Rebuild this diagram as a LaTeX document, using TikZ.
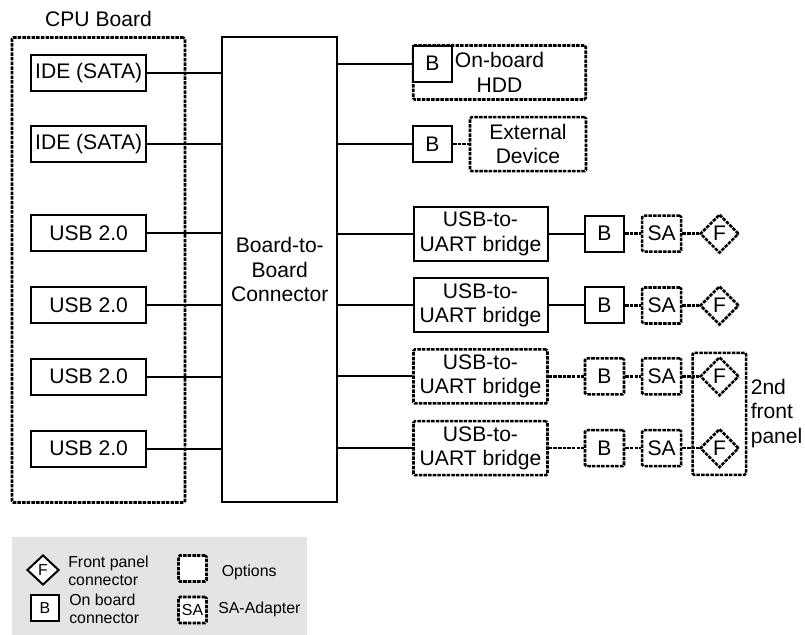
\documentclass[tikz,border=0pt]{standalone}
\usepackage{fontspec}
\setmainfont{Liberation Sans}
\usetikzlibrary{shapes.geometric}
\definecolor{legendgray}{RGB}{228, 228, 228}
\newcommand{\pu}{0.025cm}
\tikzset{
	bigtext/.style={font=\fontsize{15.0}{17.4}\selectfont},
	smalltext/.style={font=\fontsize{11.3}{12.9}\selectfont},
	optline/.style={line width=1.8pt, dash pattern=on 2.5pt off 0.8pt},
	solidline/.style={line width=1.42pt},
	block/.style={rectangle, draw=black, solidline, align=center, inner sep=0pt, bigtext},
	optblock/.style={block, optline, rounded corners=1pt},
	portbox/.style={block, minimum width=115*\pu, minimum height=36*\pu},
	bridge/.style={block, minimum width=134*\pu, minimum height=54*\pu},
	optbridge/.style={optblock, minimum width=134*\pu, minimum height=54*\pu},
	conbox/.style={block, minimum width=39*\pu, minimum height=36*\pu},
	optconbox/.style={optblock, minimum width=39*\pu, minimum height=36*\pu},
	adapter/.style={optblock, minimum width=39*\pu, minimum height=36*\pu},
	panelconn/.style={diamond, aspect=1, draw=black, optline, inner sep=0pt, minimum size=39*\pu, bigtext},
	legendkey/.style={rectangle, draw=black, align=center, inner sep=0pt, smalltext},
	link/.style={draw=black, solidline},
	optlink/.style={draw=black, optline},
}
\begin{document}
\begin{tikzpicture}[x=\pu, y=-\pu]
		\useasboundingbox (0,0) rectangle (805,635);
		\node[bigtext] (cputitle) at (98.5,19) {CPU Board};
		\node[optblock, minimum width=173*\pu, minimum height=465*\pu] (cpu) at (98.5,270) {};
		\node[portbox] (ide1) at (88.7,72.8) {IDE (SATA)};
		\node[portbox] (ide2) at (88.7,144.5) {IDE (SATA)};
		\node[portbox] (usb1) at (88.7,233.5) {USB 2.0};
		\node[portbox] (usb2) at (88.7,305) {USB 2.0};
		\node[portbox] (usb3) at (88.7,376.7) {USB 2.0};
		\node[portbox] (usb4) at (88.7,448.7) {USB 2.0};
		\node[block, minimum width=115*\pu, minimum height=465*\pu] (conn) at (279.8,269.5) {Board-to-\\Board\\Connector};
		\node[optblock, minimum width=172.5*\pu, minimum height=54*\pu] (hdd) at (499.5,72.5) {On-board\\HDD};
		\node[conbox, fill=white] (bhdd) at (432.5,63.7) {B};
		\node[conbox] (bext) at (432.5,144.2) {B};
		\node[optblock, minimum width=116*\pu, minimum height=54*\pu] (ext) at (528,144.2) {External\\Device};
		\node[bridge] (uart1) at (480.5,233.7) {USB-to-\\UART bridge};
		\node[bridge] (uart2) at (480.5,305.5) {USB-to-\\UART bridge};
		\node[optbridge] (uart3) at (480.5,376.4) {USB-to-\\UART bridge};
		\node[optbridge] (uart4) at (480.5,448.2) {USB-to-\\UART bridge};
		\node[conbox] (b1) at (604.5,233.7) {B};
		\node[conbox] (b2) at (604.5,305.5) {B};
		\node[optconbox] (b3) at (604.5,376.4) {B};
		\node[optconbox] (b4) at (604.5,448.2) {B};
		\node[adapter] (sa1) at (661.7,233.7) {SA};
		\node[adapter] (sa2) at (661.7,305.5) {SA};
		\node[adapter] (sa3) at (661.7,376.4) {SA};
		\node[adapter] (sa4) at (661.7,448.2) {SA};
		\node[optblock, minimum width=53.5*\pu, minimum height=122*\pu] (panel) at (719.3,413.8) {};
		\node[panelconn] (f1) at (719.5,233.7) {F};
		\node[panelconn] (f2) at (719.5,305.5) {F};
		\node[panelconn] (f3) at (719.5,376.4) {F};
		\node[panelconn] (f4) at (719.5,448.2) {F};
		\node[bigtext, align=left, anchor=west, inner sep=0pt] (paneltext) at (750.5,413.5) {2nd\\front\\panel};
		\draw[link] (ide1) -- (ide1 -| conn.west);
		\draw[link] (ide2) -- (ide2 -| conn.west);
		\draw[link] (usb1) -- (usb1 -| conn.west);
		\draw[link] (usb2) -- (usb2 -| conn.west);
		\draw[link] (usb3) -- (usb3 -| conn.west);
		\draw[link] (usb4) -- (usb4 -| conn.west);
		\draw[link] (bhdd.west -| conn.east) -- (bhdd.west);
		\draw[link] (bext.west -| conn.east) -- (bext.west);
		\draw[link] (uart1.west -| conn.east) -- (uart1.west);
		\draw[link] (uart2.west -| conn.east) -- (uart2.west);
		\draw[link] (uart3.west -| conn.east) -- (uart3.west);
		\draw[link] (uart4.west -| conn.east) -- (uart4.west);
		\draw[optlink] (bext) -- (ext);
		\draw[link] (uart1) -- (b1);
		\draw[link] (uart2) -- (b2);
		\draw[optlink] (uart3) -- (b3);
		\draw[optlink] (uart4) -- (b4);
		\draw[optlink] (b1) -- (sa1);
		\draw[optlink] (b2) -- (sa2);
		\draw[optlink] (b3) -- (sa3);
		\draw[optlink] (b4) -- (sa4);
		\draw[optlink] (sa1) -- (f1);
		\draw[optlink] (sa2) -- (f2);
		\draw[optlink] (sa3) -- (f3);
		\draw[optlink] (sa4) -- (f4);
		\node[fill=legendgray, minimum width=295*\pu, minimum height=98*\pu, inner sep=0pt] (legend) at (159.5,586) {};
		\node[diamond, aspect=1, draw=black, fill=white, solidline, inner sep=0pt, minimum width=32*\pu, minimum height=30*\pu, smalltext] (keyf) at (43,570) {F};
		\node[legendkey, fill=white, solidline, minimum width=28*\pu, minimum height=26*\pu] (keyb) at (45,608) {B};
		\node[legendkey, fill=white, optline, rounded corners=1pt, minimum width=28*\pu, minimum height=26*\pu] (keyopt) at (192.5,568.5) {};
		\node[legendkey, fill=white, optline, rounded corners=1pt, minimum width=28*\pu, minimum height=26*\pu] (keysa) at (192.5,610) {SA};
		\node[smalltext, align=left, anchor=west, inner sep=0pt] (keyftext) at (68,570.5) {Front panel\\connector};
		\node[smalltext, align=left, anchor=west, inner sep=0pt] (keybtext) at (69,609) {On board\\connector};
		\node[smalltext, anchor=west, inner sep=0pt] (keyopttext) at (221.5,572) {Options};
		\node[smalltext, anchor=west, inner sep=0pt] (keysatext) at (218,609) {SA-Adapter};
	\end{tikzpicture}
\end{document}
